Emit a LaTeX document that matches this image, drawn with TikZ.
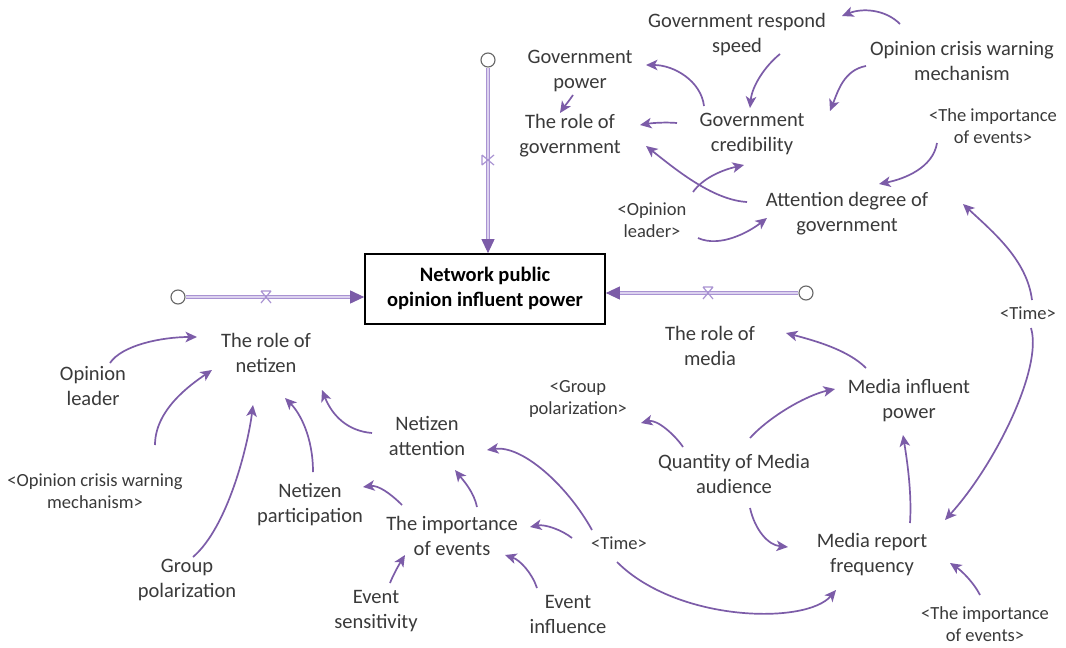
\documentclass[tikz,border=0pt]{standalone}
\usepackage{fontspec}
\setmainfont{Carlito}
\usetikzlibrary{arrows.meta}
\definecolor{arrc}{HTML}{7C5CA8}
\definecolor{flowc}{HTML}{A993D2}
\definecolor{flowin}{HTML}{DCD2EF}
\definecolor{txt}{HTML}{3A3A3A}
\begin{document}
\begin{tikzpicture}[x=1pt,y=-1pt,
  lab/.style={text=txt, font=\fontsize{20.5}{25}\selectfont, align=center, inner sep=0pt},
  sm/.style={text=txt, font=\fontsize{18.5}{22}\selectfont, align=center, inner sep=0pt},
  arr/.style={draw=arrc, line width=1.7pt, -{Stealth[length=11.5pt,width=10.5pt,inset=3pt]}},
  flow/.style={draw=flowc, line width=1pt, double=flowin, double distance=2.8pt,
    -{Triangle[length=14pt,width=13pt,color=arrc,fill=arrc]}},
  cloudnode/.style={circle, draw=black!60, line width=1.1pt, minimum size=14pt, inner sep=0pt, fill=white},
  valve/.style={draw=flowc, line width=1.2pt},
  stockbox/.style={draw=black, line width=1.7pt, minimum width=240pt, minimum height=70pt,
    font=\bfseries\fontsize{20.5}{25}\selectfont, align=center, text=black}]
\fill[white] (0,0) rectangle (1066,648);
\useasboundingbox (0,0) rectangle (1066,648);

% nodes
\node[lab] (grs) at (737,34.5) {\strut Government respond\\\strut speed};
\node[lab] (ocw) at (962,63) {\strut Opinion crisis warning\\\strut mechanism};
\node[lab] (gp) at (580,70.5) {\strut Government\\\strut power};
\node[lab] (rog) at (570,136) {\strut The role of\\\strut government};
\node[lab] (gc) at (752,133.5) {\strut Government\\\strut credibility};
\node[sm] (tie1) at (993,128) {\strut <The importance\\\strut of events>};
\node[sm] (ol1) at (652,222.5) {\strut <Opinion\\\strut leader>};
\node[lab] (adg) at (847,213.5) {\strut Attention degree of\\\strut government};
\node[stockbox] (box) at (485,289) {\strut Network public\\\strut opinion influent power};
\node[lab] (ron) at (266,354.5) {\strut The role of\\\strut netizen};
\node[lab] (rom) at (710,347.5) {\strut The role of\\\strut media};
\node[sm] (time1) at (1028,315) {\strut <Time>};
\node[lab] (ol) at (93,387.5) {\strut Opinion\\\strut leader};
\node[lab] (mip) at (909,400.5) {\strut Media influent\\\strut power};
\node[sm] (gp2) at (578,399.5) {\strut <Group\\\strut polarization>};
\node[lab] (na) at (427,437.5) {\strut Netizen\\\strut attention};
\node[sm] (ocw2) at (95,493) {\strut <Opinion crisis warning\\\strut mechanism>};
\node[lab] (qma) at (734,475.5) {\strut Quantity of Media\\\strut audience};
\node[lab] (np) at (310,504.5) {\strut Netizen\\\strut participation};
\node[lab] (ioe) at (452,537.5) {\strut The importance\\\strut of events};
\node[sm] (time2) at (619,545) {\strut <Time>};
\node[lab] (mrf) at (872,555) {\strut Media report\\\strut frequency};
\node[lab] (gpol) at (187,580) {\strut Group\\\strut polarization};
\node[lab] (es) at (376,610.5) {\strut Event\\\strut sensitivity};
\node[lab] (ei) at (568,615.5) {\strut Event\\\strut influence};
\node[sm] (tie2) at (985,626) {\strut <The importance\\\strut of events>};

% clouds and flows
\node[cloudnode] (cT) at (488,60) {};
\node[cloudnode] (cL) at (178,297) {};
\node[cloudnode] (cR) at (806,293) {};
\draw[flow] (cT) -- (cT |- box.north);
\draw[flow] (cL) -- (cL -| box.west);
\draw[flow] (cR) -- (cR -| box.east);
\coordinate (vT) at (488,160);
\coordinate (vL) at (266,297);
\coordinate (vR) at (708,293);
\draw[valve] (vL) ++(-5,-6) -- ++(10,0) (vL) ++(-5,-6) -- ++(10,12) (vL) ++(5,-6) -- ++(-10,12);
\draw[valve] (vR) ++(-5,-6) -- ++(10,0) (vR) ++(-5,-6) -- ++(10,12) (vR) ++(5,-6) -- ++(-10,12);
\draw[valve] (vT) ++(-6,-5) -- ++(0,10) (vT) ++(-6,-5) -- ++(12,10) (vT) ++(-6,5) -- ++(12,-10);

% causal arrows (top)
\draw[arr] ([shift={(-62,-39)}]ocw.center) .. controls +(-15,-15) and +(20,-8) .. ([shift={(105,-18.5)}]grs.center);
\draw[arr] ([shift={(-96,3)}]ocw.center) .. controls +(-22,4) and +(8,-20) .. ([shift={(78,-22.5)}]gc.center);
\draw[arr] ([shift={(43,19.5)}]grs.center) .. controls +(-15,12) and +(2,-22) .. ([shift={(-2,-25.5)}]gc.center);
\draw[arr] ([shift={(-48,-27.5)}]gc.center) .. controls +(-3,-25) and +(28,0) .. ([shift={(66,-5.5)}]gp.center);
\draw[arr] ([shift={(-7,24.5)}]gp.center) .. controls +(-4,6) and +(4,-6) .. ([shift={(-10,-23)}]rog.center);
\draw[arr] ([shift={(-75,-10.5)}]gc.center) .. controls +(-12,-1) and +(12,-2) .. ([shift={(70,-11)}]rog.center);
\draw[arr] ([shift={(-100,-11.5)}]adg.center) .. controls +(-35,-2) and +(28,22) .. ([shift={(76,10)}]rog.center);
\draw[arr] ([shift={(41,-30.5)}]ol1.center) .. controls +(10,-14) and +(-22,5) .. ([shift={(-8,31.5)}]gc.center);
\draw[arr] ([shift={(46,15.5)}]ol1.center) .. controls +(22,10) and +(-18,14) .. ([shift={(-80,4.5)}]adg.center);
\draw[arr] ([shift={(-56,15)}]tie1.center) .. controls +(-4,25) and +(25,-5) .. ([shift={(32,-29.5)}]adg.center);
\draw[arr] ([shift={(4,-15)}]time1.center) .. controls +(-5,-40) and +(30,28) .. ([shift={(116,-9.5)}]adg.center);
\draw[arr] ([shift={(3,13)}]time1.center) .. controls +(12,40) and +(50,-55) .. ([shift={(73,-35)}]mrf.center);

% media side
\draw[arr] ([shift={(-43,-32.5)}]mip.center) .. controls +(-18,-18) and +(30,8) .. ([shift={(76,-14.5)}]rom.center);
\draw[arr] ([shift={(16,-37.5)}]qma.center) .. controls +(20,-22) and +(-28,6) .. ([shift={(-74,-11.5)}]mip.center);
\draw[arr] ([shift={(-51,-28.5)}]qma.center) .. controls +(-8,-12) and +(16,-4) .. ([shift={(63,23.5)}]gp2.center);
\draw[arr] ([shift={(16,32.5)}]qma.center) .. controls +(5,22) and +(-20,-2) .. ([shift={(-84,-8)}]mrf.center);
\draw[arr] ([shift={(38,-32)}]mrf.center) .. controls +(2,-30) and +(4,25) .. ([shift={(-6,34.5)}]mip.center);
\draw[arr] ([shift={(-5,-31)}]tie2.center) .. controls +(-6,-12) and +(12,8) .. ([shift={(78,8)}]mrf.center);
\draw[arr] ([shift={(-2,17)}]time2.center) .. controls +(60,60) and +(-30,35) .. ([shift={(-36,35)}]mrf.center);

% netizen side
\draw[arr] ([shift={(-47,-7)}]time2.center) .. controls +(-10,-8) and +(15,-3) .. ([shift={(78,-10.5)}]ioe.center);
\draw[arr] ([shift={(-27,-15)}]time2.center) .. controls +(-25,-45) and +(35,-5) .. ([shift={(60,12.5)}]na.center);
\draw[arr] ([shift={(-31,-27.5)}]ei.center) .. controls +(-5,-15) and +(15,5) .. ([shift={(53,17.5)}]ioe.center);
\draw[arr] ([shift={(14,-27.5)}]es.center) .. controls +(4,-10) and +(-5,8) .. ([shift={(-47,17.5)}]ioe.center);
\draw[arr] ([shift={(25,-30.5)}]ioe.center) .. controls +(-3,-15) and +(8,10) .. ([shift={(28,32.5)}]na.center);
\draw[arr] ([shift={(-50,-32.5)}]ioe.center) .. controls +(-12,-12) and +(15,-2) .. ([shift={(53,-17.5)}]np.center);
\draw[arr] ([shift={(-55,-4.5)}]na.center) .. controls +(-25,-2) and +(10,25) .. ([shift={(56,35.5)}]ron.center);
\draw[arr] ([shift={(3,-32.5)}]np.center) .. controls +(0,-35) and +(15,15) .. ([shift={(19,43.5)}]ron.center);
\draw[arr] ([shift={(6,-23)}]gpol.center) .. controls +(35,-30) and +(-5,40) .. ([shift={(-13,50.5)}]ron.center);
\draw[arr] ([shift={(60,-48)}]ocw2.center) .. controls +(0,-35) and +(-22,15) .. ([shift={(-54,15.5)}]ron.center);
\draw[arr] ([shift={(17,-24.5)}]ol.center) .. controls +(12,-18) and +(-35,0) .. ([shift={(-69,-17.5)}]ron.center);
\end{tikzpicture}
\end{document}
